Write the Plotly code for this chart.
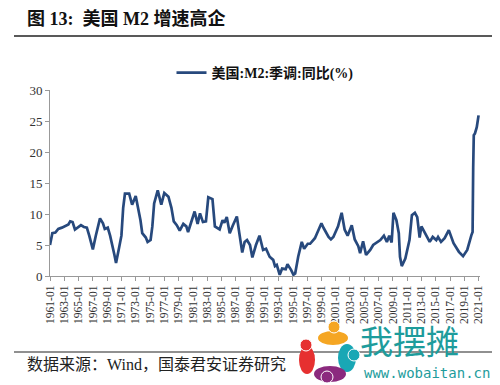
import plotly.graph_objects as go

# ---- data ----
dates = [
    "1961-01", "1961-05", "1961-10", "1962-03", "1962-09", "1963-03", "1963-08", "1963-11",
    "1964-03", "1964-07", "1964-12", "1965-05", "1965-10", "1966-03", "1966-07", "1967-01",
    "1967-06", "1968-01", "1968-06", "1968-09", "1969-02", "1969-06", "1970-01", "1970-04",
    "1970-09", "1971-01", "1971-04", "1971-07", "1972-02", "1972-07", "1973-01", "1973-05",
    "1973-09", "1973-12", "1974-06", "1974-09", "1975-02", "1975-05", "1975-08", "1976-02",
    "1976-08", "1977-01", "1977-08", "1978-01", "1978-05", "1978-10", "1979-03", "1979-09",
    "1980-02", "1980-05", "1980-11", "1981-04", "1981-09", "1982-01", "1982-06", "1982-11",
    "1983-03", "1983-10", "1984-02", "1984-10", "1985-03", "1985-06", "1985-10", "1986-03",
    "1986-08", "1987-03", "1987-07", "1987-12", "1988-04", "1988-08", "1989-01", "1989-05",
    "1989-11", "1990-05", "1990-11", "1991-04", "1991-10", "1992-04", "1992-07", "1992-10",
    "1993-03", "1993-07", "1994-01", "1994-04", "1994-10", "1995-02", "1995-05", "1995-10",
    "1996-04", "1996-08", "1997-02", "1997-06", "1998-02", "1998-07", "1999-01", "1999-05",
    "2000-01", "2000-05", "2000-09", "2001-05", "2001-11", "2002-04", "2002-09", "2003-04",
    "2003-09", "2004-03", "2004-06", "2004-11", "2005-04", "2005-11", "2006-04", "2007-04",
    "2007-10", "2008-03", "2008-07", "2008-11", "2009-02", "2009-07", "2009-11", "2010-01",
    "2010-04", "2010-10", "2011-05", "2011-09", "2012-02", "2012-06", "2012-10", "2013-01",
    "2013-07", "2014-03", "2014-08", "2015-02", "2015-05", "2015-10", "2016-04", "2016-11",
    "2017-07", "2018-04", "2018-11", "2019-06", "2020-01", "2020-03", "2020-04", "2020-05",
    "2020-07", "2020-10", "2021-01",
]
m2_yoy = [
    5.0, 6.9, 7.0, 7.6, 7.8, 8.1, 8.3, 8.8,
    8.7, 7.5, 7.9, 8.2, 7.9, 7.8, 6.5, 4.3,
    6.5, 9.3, 8.5, 7.6, 7.8, 6.5, 3.5, 2.1,
    4.5, 6.5, 11.0, 13.3, 13.3, 11.5, 12.9, 11.2,
    9.0, 6.9, 6.2, 5.5, 5.8, 8.0, 11.7, 13.8,
    11.5, 13.4, 12.8, 11.0, 8.8, 8.2, 7.3, 8.4,
    8.0, 7.1, 8.8, 10.4, 8.4, 10.1, 8.7, 8.8,
    12.7, 12.4, 8.0, 7.5, 9.0, 8.6, 9.5, 6.9,
    8.1, 9.6, 7.0, 3.8, 5.5, 5.8, 5.0, 3.0,
    5.0, 6.5, 4.2, 4.4, 3.1, 2.6, 1.6, 1.8,
    0.2, 1.2, 1.1, 1.9, 1.0, 0.2, 0.4, 3.1,
    5.5, 4.4, 5.2, 5.2, 6.1, 7.1, 8.5, 7.7,
    6.3, 5.9, 6.3, 8.0, 10.2, 7.5, 6.5, 8.2,
    5.9, 4.8, 3.7, 5.6, 3.4, 4.2, 5.0, 5.8,
    6.5, 5.5, 6.5, 5.4, 10.2, 9.0, 6.9, 3.1,
    1.6, 2.8, 5.8, 9.8, 10.2, 9.5, 6.2, 8.0,
    6.9, 5.5, 6.3, 5.8, 6.3, 5.5, 6.1, 7.4,
    5.3, 3.9, 3.2, 4.2, 6.6, 7.1, 17.5, 22.7,
    23.0, 24.0, 25.9,
]
series_name = "美国:M2:季调:同比(%)"
y_ticks = [0, 5, 10, 15, 20, 25, 30]

# ---- layout geometry (page pixels; the page body has an 8px default margin) ----
OFF = 8
W, H = 500 - OFF, 385 - OFF
L, R, T, B = 50 - OFF, 20, 90 - OFF, 109
PW, PH = W - L - R, H - T - B


def px(x):
    return (x - OFF - L) / PW


def py(y):
    return (H - B - (y - OFF)) / PH


SERIF = "Liberation Serif, Times New Roman, Noto Sans CJK SC, serif"
LINE_COLOR = "#27497d"

fig = go.Figure()
fig.add_trace(go.Scatter(
    x=dates, y=m2_yoy, mode="lines", name="<b>" + series_name + "</b>",
    line=dict(color=LINE_COLOR, width=2.7),
))

shapes = [
    dict(type="line", xref="paper", yref="paper", x0=px(14), x1=px(500), y0=py(36), y1=py(36),
         line=dict(color="#222", width=1.5)),
    dict(type="line", xref="paper", yref="paper", x0=px(14), x1=px(500), y0=py(352), y1=py(352),
         line=dict(color="#222", width=1.2)),
]

# watermark logo (decoration)
blobs = [
    (318, 331, 348, 345, "#f5a623"), (299, 346, 315, 374, "#e63030"),
    (338, 344, 356, 372, "#19a7b5"), (314, 366, 346, 382, "#8b2a7e"),
]
for x0, y0, x1, y1, c in blobs:
    shapes.append(dict(type="circle", xref="paper", yref="paper",
                       x0=px(x0), x1=px(x1), y0=py(y1), y1=py(y0),
                       fillcolor=c, line=dict(width=0)))
heads = [
    (334, 327, 6, "#f5a623"), (306, 345, 6, "#e63030"), (354, 355, 6, "#19a7b5"), (327, 377, 6, "#8b2a7e"),
]
for cx, cy, r, c in heads:
    shapes.append(dict(type="circle", xref="paper", yref="paper",
                       x0=px(cx - r), x1=px(cx + r), y0=py(cy + r), y1=py(cy - r),
                       fillcolor=c, line=dict(color="white", width=1)))

annotations = [
    dict(text="<b>图 13:&nbsp;&nbsp;美国 M2 增速高企</b>", xref="paper", yref="paper",
         x=px(25), y=py(19), xanchor="left", yanchor="middle", showarrow=False,
         font=dict(family=SERIF, size=18, color="#111")),
    dict(text="数据来源：Wind，国泰君安证券研究", xref="paper", yref="paper",
         x=px(25), y=py(364), xanchor="left", yanchor="middle", showarrow=False,
         font=dict(family=SERIF, size=16, color="#222")),
    dict(text="我摆摊", xref="paper", yref="paper",
         x=px(358), y=py(340), xanchor="left", yanchor="middle", showarrow=False,
         font=dict(family="Noto Sans CJK SC", size=33, color="#1e9c9c")),
    dict(text="www.wobaitan.cn", xref="paper", yref="paper",
         x=px(362), y=py(373), xanchor="left", yanchor="middle", showarrow=False,
         font=dict(family="DejaVu Sans Mono, monospace", size=14, color="#1e9c9c")),
]

fig.update_layout(
    width=W, height=H,
    margin=dict(l=L, r=R, t=T, b=B),
    paper_bgcolor="white", plot_bgcolor="white",
    showlegend=True,
    legend=dict(orientation="h", x=0.5, xanchor="center", y=py(73), yanchor="middle",
                font=dict(family=SERIF, size=14, color="#111"), bgcolor="rgba(0,0,0,0)"),
    shapes=shapes,
    annotations=annotations,
    xaxis=dict(
        type="date", range=["1961-01-01", "2021-03-15"],
        tick0="1961-01-01", dtick="M24", tickformat="%Y-%m",
        tickangle=-90, ticks="outside", ticklen=4, tickcolor="#999",
        showline=True, linecolor="#999", linewidth=1, showgrid=False, zeroline=False,
        tickfont=dict(family=SERIF, size=11.5, color="#333"),
    ),
    yaxis=dict(
        range=[0, 30], tickvals=y_ticks, ticks="outside", ticklen=4, tickcolor="#999",
        showline=True, linecolor="#999", linewidth=1, showgrid=False, zeroline=False,
        tickfont=dict(family=SERIF, size=13, color="#333"),
    ),
)

fig.write_html("out.html")
